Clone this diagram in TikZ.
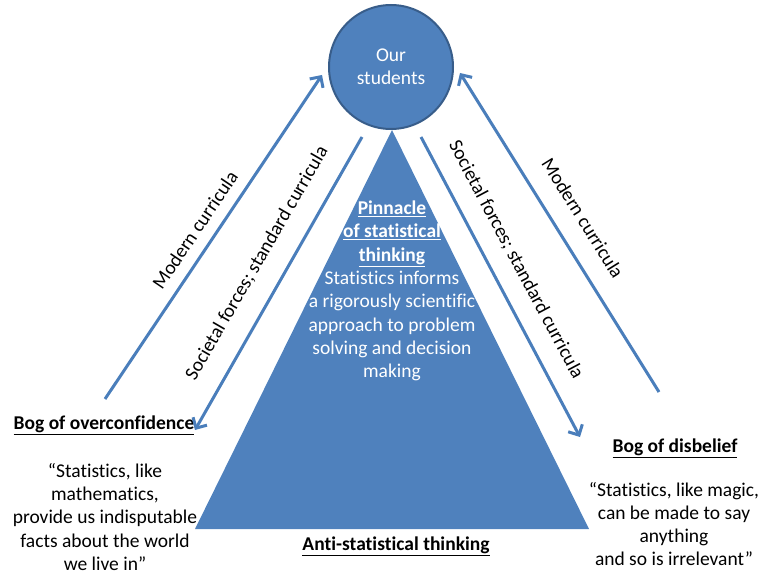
\documentclass[tikz,border=0pt]{standalone}
\usepackage{fontspec}
\setmainfont{Carlito}[Ligatures={TeX,NoCommon}]
\usetikzlibrary{arrows.meta}

\definecolor{pinblue}{HTML}{4F81BD}
\definecolor{edgeblue}{HTML}{385D8A}
\definecolor{arrowblue}{HTML}{4A7EBB}

\tikzset{
  flow/.style={draw=arrowblue, line width=3pt, -{Straight Barb[length=8pt,width=16pt,line width=3pt]}},
  txt/.style={font=\fontsize{19.5}{23.3}\selectfont, align=center, inner sep=1pt},
}

\begin{document}
\begin{tikzpicture}[x=1pt, y=-1pt]
 \path[use as bounding box] (0,0) rectangle (774,580);
 % the pinnacle and the students
 \fill[pinblue] (392,130) -- (589,529) -- (195,529) -- cycle;
 \node[circle, fill=pinblue, draw=edgeblue, line width=2pt, minimum size=124pt, txt, text=white] (students) at (391,67) {Our\\students};
 \node[txt, text=white] (pinnacle) at (392,291) {\textbf{\underline{Pinnacle}}\\\textbf{\underline{of statistical}}\\\textbf{\underline{thinking}}\\Statistics informs\\a rigorously scientific\\approach to problem\\solving and decision\\making};
 \node[txt] (anti) at (396,546) {\textbf{\underline{Anti-statistical thinking}}};
 % the two bogs
 \node[txt] (bogL) at (104,425) {\textbf{\underline{Bog of overconfidence}}};
 \node[txt] (quoteL) at (105,517) {``Statistics, like\\mathematics,\\provide us indisputable\\facts about the world\\we live in''};
 \node[txt] (bogR) at (675,448) {\textbf{\underline{Bog of disbelief}}};
 \node[txt] (quoteR) at (674,524) {``Statistics, like magic,\\can be made to say\\anything\\and so is irrelevant''};
 % arrows
 \coordinate (mlS) at (105,399); \coordinate (mlE) at (322,75);
 \coordinate (slS) at (362,137); \coordinate (slE) at (195,430);
 \coordinate (srS) at (421,137); \coordinate (srE) at (580,437);
 \coordinate (mrS) at (659,392); \coordinate (mrE) at (460,73);
 \draw[flow] (mlS) -- (mlE);
 \draw[flow] (slS) -- (slE);
 \draw[flow] (srS) -- (srE);
 \draw[flow] (mrS) -- (mrE);
 \node[txt, rotate=56] (modL) at (195,230) {Modern curricula};
 \node[txt, rotate=60] (socL) at (257,263) {Societal forces; standard curricula};
 \node[txt, rotate=-62] (socR) at (516,260) {Societal forces; standard curricula};
 \node[txt, rotate=-58] (modR) at (583,218) {Modern curricula};
\end{tikzpicture}
\end{document}
